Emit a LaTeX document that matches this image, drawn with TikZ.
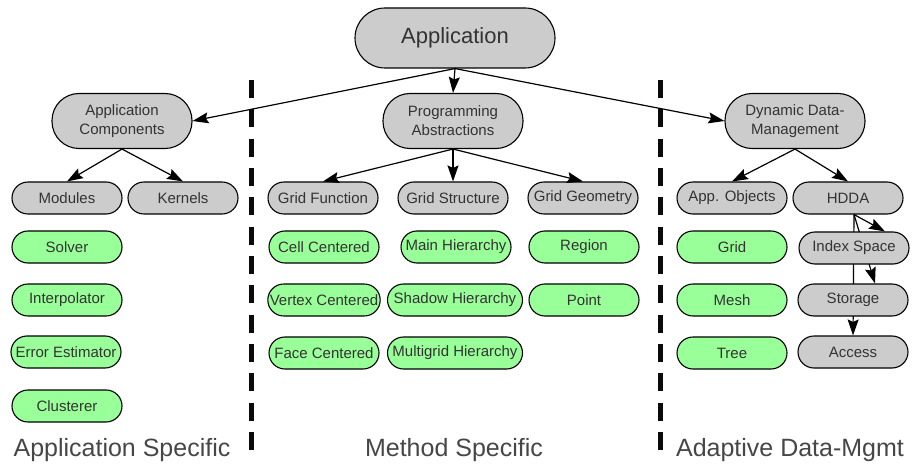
\documentclass[tikz,border=0pt]{standalone}
\usepackage{fontspec}
\setmainfont{Liberation Sans}
\usepackage{tikz}
\usetikzlibrary{
    arrows.meta,
    calc,
    positioning,
    backgrounds
}
\definecolor{boxgray}{RGB}{204,204,204}
\definecolor{boxgreen}{RGB}{153,255,153}
\definecolor{inkgray}{RGB}{51,51,51}
\definecolor{labelgray}{RGB}{70,70,70}
\definecolor{dashink}{RGB}{10,10,10}

\begin{document}
\begin{tikzpicture}[x=1pt, y=-1pt,
    pill/.style={draw=black, line width=1.1pt, rounded corners=16pt,
        minimum width=110pt, minimum height=32pt, inner xsep=2pt,
        text=inkgray, font=\fontsize{15}{17}\selectfont},
    graypill/.style={pill, fill=boxgray},
    greenpill/.style={pill, fill=boxgreen},
    toppill/.style={graypill, rounded corners=27pt, minimum width=140pt,
        minimum height=55pt, align=center, font=\fontsize{15}{19}\selectfont},
    link/.style={-{Stealth[length=16pt, width=11pt, inset=2.5pt]}, line width=1.2pt},
    divider/.style={dashink, line width=5pt, dash pattern=on 18pt off 11.33pt},
    areatitle/.style={text=labelgray, font=\fontsize{25}{28}\selectfont}
]
    % Canvas
    \useasboundingbox (0,0) rectangle (912,470);

    % Dividers
    \draw[divider] (251,80) -- (251,450);
    \draw[divider] (660,80) -- (660,450);

    % Root
    \node[graypill, rounded corners=30pt, minimum width=200pt, minimum height=60pt,
        font=\fontsize{22}{24}\selectfont] (app) at (455,38) {Application};

    % Second level
    \node[toppill] (appcomp) at (122,121) {Application\\Components};
    \node[toppill] (prog) at (453,121) {Programming\\Abstractions};
    \node[toppill] (ddm) at (795,121) {Dynamic Data-\\Management};

    % Third level
    \node[graypill] (modules) at (67,198) {Modules};
    \node[graypill] (kernels) at (183,198) {Kernels};
    \node[graypill] (gridfn) at (323,198) {Grid Function};
    \node[graypill] (gridstr) at (453,198) {Grid Structure};
    \node[graypill] (gridgeo) at (583,198) {Grid Geometry};
    \node[graypill] (appobj) at (732,198) {App. Objects};
    \node[graypill] (hdda) at (848,198) {HDDA};

    % Application specific leaves
    \node[greenpill] (solver) at (67,247) {Solver};
    \node[greenpill] (interp) at (67,300) {Interpolator};
    \node[greenpill] (errest) at (66,352) {Error Estimator};
    \node[greenpill] (cluster) at (67,406) {Clusterer};

    % Method specific leaves
    \node[greenpill] (cellc) at (324,247) {Cell Centered};
    \node[greenpill] (vertexc) at (324,300) {Vertex Centered};
    \node[greenpill] (facec) at (324,353) {Face Centered};
    \node[greenpill] (mainh) at (456,247) {Main Hierarchy};
    \node[greenpill, minimum width=135pt] (shadowh) at (455,300) {Shadow Hierarchy};
    \node[greenpill, minimum width=135pt] (multih) at (455,353) {Multigrid Hierarchy};
    \node[greenpill] (region) at (584,247) {Region};
    \node[greenpill] (point) at (584,300) {Point};

    % Data management leaves
    \node[greenpill] (grid) at (732,247) {Grid};
    \node[greenpill] (mesh) at (732,300) {Mesh};
    \node[greenpill] (tree) at (732,353) {Tree};
    \node[graypill] (idx) at (854,248) {Index Space};
    \node[graypill] (storage) at (853,300) {Storage};
    \node[graypill] (access) at (853,352) {Access};

    % Links
    \draw[link] (app.south) -- (appcomp.east);
    \draw[link] (app.south) -- (prog.north);
    \draw[link] (app.south) -- (ddm.west);
    \draw[link] (appcomp.south) -- (modules.north);
    \draw[link] (appcomp.south) -- (kernels.north);
    \draw[link] (prog.south) -- (gridfn.north);
    \draw[link] (prog.south) -- (gridstr.north);
    \draw[link] (prog.south) -- (gridgeo.north);
    \draw[link] (ddm.south) -- (appobj.north);
    \draw[link] (ddm.south) -- (hdda.north);

    % HDDA links, behind the boxes
    \begin{scope}[on background layer]
        \coordinate (hddafoot) at (hdda.south -| idx.north);
        \draw[link] (hddafoot) -- ([xshift=31pt]idx.north);
        \draw[link] (hddafoot) -- ([xshift=22pt]storage.north);
        \draw[link] (hddafoot) -- (access.north);
    \end{scope}

    % Area titles
    \node[areatitle] (appspec) at (122,450) {Application Specific};
    \node[areatitle] (methspec) at (454,450) {Method Specific};
    \node[areatitle] (dataspec) at (790,450) {Adaptive Data-Mgmt};
\end{tikzpicture}
\end{document}
